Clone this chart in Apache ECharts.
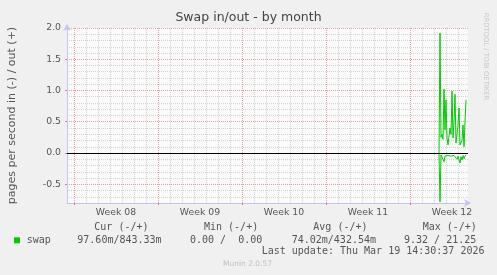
<!DOCTYPE html>
<html>
<head>
<meta charset="utf-8">
<script src="https://cdn.jsdelivr.net/npm/echarts@6/dist/echarts.min.js"></script>
<style>
html,body{margin:0;padding:0;background:#f0f0f0;}
#c{width:497px;height:275px;}
</style>
</head>
<body>
<div id="c"></div>
<script>
// x values are hours since Monday of Week 08 (2-hour samples)
const sampleHours = [730,732,734,736,738,740,742,744,746,748,750,752,754,756,758,760,762,764,766,768,770,772,774,776,778,780,782,784];
const swapOut = [0,1.92,0.25,0.3,0.22,1.02,0.37,0.85,0.24,0.13,0.1,0.4,0.3,0.99,0.24,0.5,0.94,0.16,0.3,0.45,0.72,0.13,0.15,0.2,0.45,0.1,0.5,0.85];
const swapIn = [0,-0.78,-0.03,-0.06,-0.02,-0.14,-0.05,-0.03,-0.08,-0.04,-0.06,-0.02,-0.05,-0.03,-0.07,-0.04,-0.02,-0.06,-0.1,-0.05,-0.08,-0.16,-0.06,-0.11,-0.04,-0.09,-0.05,-0.03];
const weekLabels = ['Week 08','Week 09','Week 10','Week 11','Week 12'];
const weekLabelHours = [84,252,420,588,756];
const weekStartHours = [0,168,336,504,672];
const dayHours = [0,24,48,72,96,120,144,168,192,216,240,264,288,312,336,360,384,408,432,456,480,504,528,552,576,600,624,648,672,696,720,744,768];
const yMajorTicks = [-0.5,0,0.5,1,1.5,2];
const legendHeaders = ['Cur (-/+)','Min (-/+)','Avg (-/+)','Max (-/+)'];
const legendValues = ['97.60m/843.33m','0.00 /  0.00','74.02m/432.54m','9.32 / 21.25'];
const seriesName = 'swap';
const lastUpdate = 'Last update: Thu Mar 19 14:30:37 2026';

const X_MIN = -14, X_MAX = 788, Y_MIN = -0.8, Y_MAX = 2.0;
const FONT = 'DejaVu Sans';
const MONO = 'DejaVu Sans Mono';
const GREEN = '#00cc00';
const AXIS_COL = '#c4c4f2';
const MGRID = '#e4a4a4';
const GRID = '#d4d4d4';
const TXT = '#555555';

const chart = echarts.init(document.getElementById('c'), null, {renderer:'canvas'});

const hdrX = [94.3, 204, 313.3, 422.7];
const valX = [77.3, 190, 291.7, 404];
const graphics = [
  {type:'text', left:'center', top:11, style:{text:'Swap in/out - by month', font:'12.5px "'+FONT+'"', fill:'#444'}},
  {type:'text', x:486, y:56.5, rotation:-Math.PI/2, style:{text:'RRDTOOL / TOBI OETIKER', font:'6.8px "'+FONT+'"', fill:'#c8c8c8', align:'center', verticalAlign:'middle'}},
  {type:'rect', shape:{x:14, y:237.3, width:6, height:6}, style:{fill:GREEN}},
  {type:'text', x:26.7, y:240, style:{text:seriesName, font:'10px "'+MONO+'"', fill:TXT, verticalAlign:'middle'}},
  {type:'text', x:261.7, y:251.7, style:{text:lastUpdate, font:'10px "'+MONO+'"', fill:TXT, verticalAlign:'middle'}},
  {type:'text', x:247.5, y:264, style:{text:'Munin 2.0.57', font:'7.5px "'+FONT+'"', fill:'#c0c0c0', align:'center', verticalAlign:'middle'}}
];
legendHeaders.forEach((t,i)=>graphics.push({type:'text', x:hdrX[i], y:227.3, style:{text:t, font:'10px "'+MONO+'"', fill:TXT, verticalAlign:'middle'}}));
legendValues.forEach((t,i)=>graphics.push({type:'text', x:valX[i], y:240, style:{text:t, font:'10px "'+MONO+'"', fill:TXT, verticalAlign:'middle'}}));

const option = {
  animation:false,
  backgroundColor:'#f0f0f0',
  grid:{left:67, right:29, top:28, bottom:72, show:true, backgroundColor:'#fafafa', borderWidth:0, containLabel:false, outerBoundsMode:'none'},
  xAxis:[
    {type:'value', position:'bottom', min:X_MIN, max:X_MAX,
     axisLine:{show:true, onZero:false, lineStyle:{color:AXIS_COL, width:1}, symbol:['none','arrow'], symbolSize:[6,7], symbolOffset:[0,3]},
     axisTick:{show:false, customValues:dayHours}, axisLabel:{show:false},
     splitLine:{show:true, lineStyle:{color:GRID, type:'dotted', width:1}}},
    {type:'value', position:'bottom', min:X_MIN, max:X_MAX,
     axisLine:{show:false, onZero:false},
     axisTick:{show:true, customValues:weekStartHours, length:2, inside:false, lineStyle:{color:'#e08080'}},
     axisLabel:{show:true, customValues:weekLabelHours, margin:5, fontFamily:FONT, fontSize:9.3, color:TXT,
       formatter:(v)=>{const i=weekLabelHours.indexOf(Math.round(v)); return i>=0?weekLabels[i]:'';}},
     splitLine:{show:true, lineStyle:{color:MGRID, type:'dotted', width:1}}}
  ],
  yAxis:[
    {type:'value', position:'left', min:Y_MIN, max:Y_MAX, interval:0.1,
     name:'pages per second in (-) / out (+)', nameLocation:'middle', nameGap:49,
     nameTextStyle:{fontFamily:FONT, fontSize:11, color:TXT},
     axisLine:{show:true, onZero:false, lineStyle:{color:AXIS_COL, width:1}, symbol:['none','arrow'], symbolSize:[6,7], symbolOffset:[0,4]},
     axisTick:{show:false}, axisLabel:{show:false},
     splitLine:{show:true, lineStyle:{color:GRID, type:'dotted', width:1}}},
    {type:'value', position:'left', min:Y_MIN, max:Y_MAX,
     axisLine:{show:false, onZero:false},
     axisTick:{show:true, customValues:yMajorTicks, length:2, lineStyle:{color:'#e08080'}},
     axisLabel:{show:true, customValues:yMajorTicks, margin:6, fontFamily:FONT, fontSize:9.3, color:TXT,
       formatter:(v)=>Number(v).toFixed(1)},
     splitLine:{show:true, lineStyle:{color:MGRID, type:'dotted', width:1}}}
  ],
  series:[
    {name:'swap out', type:'line', xAxisIndex:0, yAxisIndex:0, showSymbol:false, z:3,
     data:sampleHours.map((h,i)=>[h, swapOut[i]]),
     lineStyle:{color:GREEN, width:1}, itemStyle:{color:GREEN},
     markLine:{silent:true, symbol:['none','none'], label:{show:false}, z:5,
       lineStyle:{color:'#000', type:'solid', width:1},
       data:[{yAxis:0}]}},
    {name:'swap in', type:'line', xAxisIndex:0, yAxisIndex:0, showSymbol:false, z:3,
     data:sampleHours.map((h,i)=>[h, swapIn[i]]),
     lineStyle:{color:GREEN, width:1}, itemStyle:{color:GREEN}}
  ],
  graphic:graphics
};
chart.setOption(option);
</script>
</body>
</html>
